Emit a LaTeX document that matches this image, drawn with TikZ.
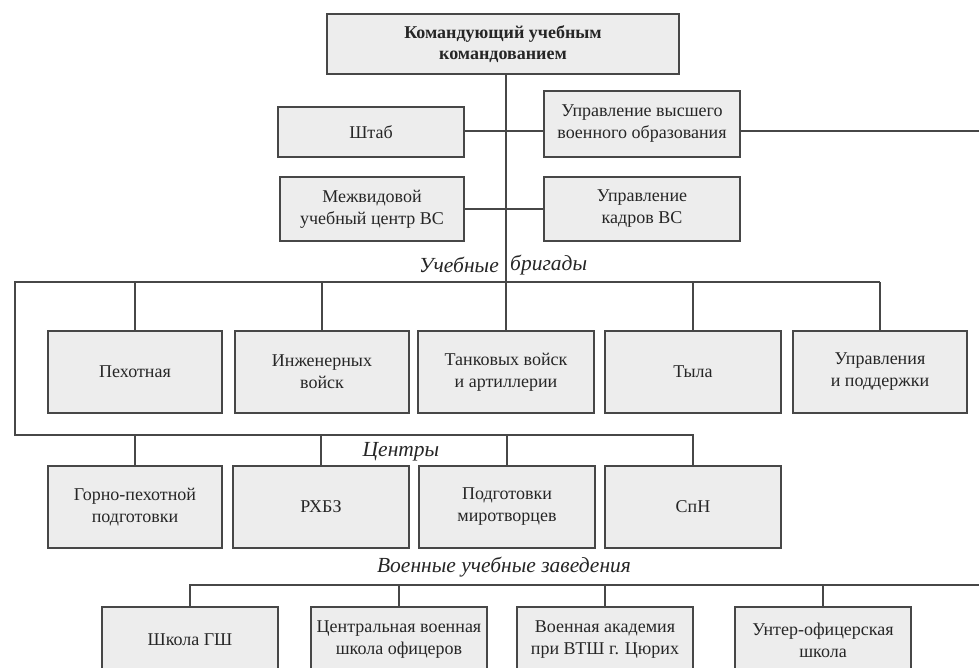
\documentclass[tikz,border=0pt]{standalone}
\usepackage{fontspec}
\setmainfont{Liberation Serif}
\definecolor{lncol}{HTML}{474747}
\definecolor{bxfill}{HTML}{EDEDED}
\definecolor{txcol}{HTML}{262626}
\begin{document}
\begin{tikzpicture}[x=1pt,y=-1pt,
  orgbox/.style={draw=lncol,line width=1.5pt,fill=bxfill,text=txcol,align=center,inner sep=2pt,
    font=\fontsize{18}{22}\selectfont},
  topbox/.style={orgbox,font=\fontsize{18}{20.5}\selectfont\bfseries},
  lbl/.style={text=txcol,font=\fontsize{21.5}{25}\selectfont\itshape,inner sep=0pt},
  conn/.style={draw=lncol,line width=1.5pt}]
\clip (0,0) rectangle (979,668);
\fill[white] (0,0) rectangle (979,668);
% top level
\node[topbox,minimum width=352pt,minimum height=60pt] (cmd) at (503,44) {Командующий учебным\\командованием};
\node[orgbox,minimum width=186pt,minimum height=50pt] (shtab) at (371,132) {Штаб};
\node[orgbox,minimum width=196pt,minimum height=66pt] (uvvo) at (642,124) {Управление высшего\\военного образования};
\node[orgbox,minimum width=184pt,minimum height=64pt] (mezh) at (372,209) {Межвидовой\\учебный центр ВС};
\node[orgbox,minimum width=196pt,minimum height=64pt] (kadr) at (642,209) {Управление\\кадров ВС};
% brigades
\node[lbl,anchor=east] (lb1) at (499,265) {Учебные};
\node[lbl,anchor=west] (lb2) at (510,265) {бригады};
\node[orgbox,minimum width=174pt,minimum height=82pt] (b1) at (135,372) {Пехотная};
\node[orgbox,minimum width=174pt,minimum height=82pt] (b2) at (322,372) {Инженерных\\войск};
\node[orgbox,minimum width=176pt,minimum height=82pt] (b3) at (506,372) {Танковых войск\\и артиллерии};
\node[orgbox,minimum width=176pt,minimum height=82pt] (b4) at (693,372) {Тыла};
\node[orgbox,minimum width=174pt,minimum height=82pt] (b5) at (880,372) {Управления\\и поддержки};
% centers
\node[lbl] (lc) at (401,452) {Центры};
\node[orgbox,minimum width=174pt,minimum height=82pt] (c1) at (135,507) {Горно-пехотной\\подготовки};
\node[orgbox,minimum width=176pt,minimum height=82pt] (c2) at (321,507) {РХБЗ};
\node[orgbox,minimum width=176pt,minimum height=82pt] (c3) at (507,507) {Подготовки\\миротворцев};
\node[orgbox,minimum width=176pt,minimum height=82pt] (c4) at (693,507) {СпН};
% schools
\node[lbl] (lv) at (504,567) {Военные учебные заведения};
\node[orgbox,minimum width=176pt,minimum height=66pt] (v1) at (190,640) {Школа ГШ};
\node[orgbox,minimum width=176pt,minimum height=66pt] (v2) at (399,640) {Центральная военная\\школа офицеров};
\node[orgbox,minimum width=176pt,minimum height=66pt] (v3) at (605,640) {Военная академия\\при ВТШ г. Цюрих};
\node[orgbox,minimum width=176pt,minimum height=66pt] (v4) at (823,640) {Унтер-офицерская\\школа};
% bus coordinates
\coordinate (bL) at (15,282);
\coordinate (cL) at (15,435);
\coordinate (uR) at (979,131);
\coordinate (vR) at (979,585);
% connectors
\draw[conn] (cmd.south -| b3.north) -- (b3.north);
\draw[conn] (shtab.east |- uR) -- (uvvo.west |- uR);
\draw[conn] (uvvo.east |- uR) -- (uR);
\draw[conn] (mezh.east) -- (kadr.west);
\draw[conn] (b5.north |- bL) -- (bL) -- (cL) -- (c4.north |- cL) -- (c4.north);
\foreach \n in {b1,b2,b5,b4}{\draw[conn] (\n.north |- bL) -- (\n.north);}
\foreach \n in {c1,c2,c3}{\draw[conn] (\n.north |- cL) -- (\n.north);}
\draw[conn] (v1.north) -- (v1.north |- vR) -- (vR);
\foreach \n in {v2,v3,v4}{\draw[conn] (\n.north |- vR) -- (\n.north);}
\end{tikzpicture}
\end{document}
